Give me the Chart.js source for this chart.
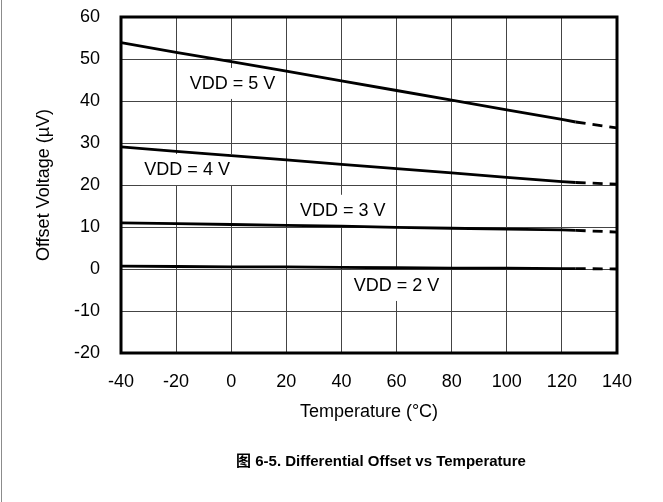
<!DOCTYPE html>
<html lang="en">
<head>
    <meta charset="UTF-8">
    <title>Differential Offset vs Temperature</title>
    <script src="https://cdn.jsdelivr.net/npm/chart.js"></script>
    <style>
        body { margin: 0; background: #fff; }
        #wrap { position: relative; width: 663px; height: 502px; }
        #edge { position: absolute; left: 1px; top: 0; width: 1px; height: 502px; background: #8c8c8c; }
    </style>
</head>
<body>
    <div id="wrap">
        <canvas id="offsetChart"></canvas>
        <div id="edge"></div>
    </div>

    <script>
        // measured temperatures (°C) and offset readings (µV)
        const temps = [-40, -20, 0, 20, 40, 60, 80, 100, 120, 125];
        const vdd5 = [53.9, 51.6, 49.4, 47.1, 44.8, 42.5, 40.2, 37.9, 35.6, 35.0];
        const vdd4 = [29.1, 28.0, 27.0, 26.0, 24.9, 23.9, 22.9, 21.8, 20.8, 20.6];
        const vdd3 = [11.0, 10.8, 10.6, 10.4, 10.2, 9.9, 9.7, 9.5, 9.3, 9.2];
        const vdd2 = [0.7, 0.6, 0.5, 0.5, 0.4, 0.3, 0.2, 0.2, 0.1, 0.1];

        // extrapolated (dashed) part
        const extTemps = [125, 140];
        const ext5 = [35.0, 33.6];
        const ext4 = [20.6, 20.2];
        const ext3 = [9.2, 8.8];
        const ext2 = [0.1, 0.0];

        const xTicks = [-40, -20, 0, 20, 40, 60, 80, 100, 120, 140];
        const yTicks = [-20, -10, 0, 10, 20, 30, 40, 50, 60];

        const labelText = ['VDD = 5 V', 'VDD = 4 V', 'VDD = 3 V', 'VDD = 2 V'];
        const labelX = [0.5, -16, 40.5, 60];
        const labelY = [44.3, 23.8, 14.1, -3.8];

        const FONT = '"Liberation Sans", Arial, "Noto Sans CJK SC", sans-serif';

        function pts(xs, ys) {
            return xs.map((x, i) => ({ x: x, y: ys[i] }));
        }

        function solid(ys) {
            return { data: pts(temps, ys), borderColor: '#000', borderWidth: 2.8, pointRadius: 0, fill: false, tension: 0 };
        }
        function dashed(ys) {
            return { data: pts(extTemps, ys), borderColor: '#000', borderWidth: 2.8, borderDash: [10, 7], pointRadius: 0, fill: false, tension: 0 };
        }

        // white boxed labels under the curves, plus the heavy frame
        const decor = {
            id: 'decor',
            beforeDatasetsDraw(chart) {
                const ctx = chart.ctx;
                const xs = chart.scales.x, ys = chart.scales.y;
                ctx.save();
                ctx.font = '18px ' + FONT;
                ctx.textAlign = 'center';
                ctx.textBaseline = 'middle';
                labelText.forEach((t, i) => {
                    const px = xs.getPixelForValue(labelX[i]);
                    const py = ys.getPixelForValue(labelY[i]);
                    const w = ctx.measureText(t).width + 6;
                    ctx.fillStyle = '#fff';
                    ctx.fillRect(px - w / 2, py - 15, w, 31);
                    ctx.fillStyle = '#000';
                    ctx.fillText(t, px, py + 1);
                });
                ctx.restore();
            },
            afterDatasetsDraw(chart) {
                const a = chart.chartArea;
                const ctx = chart.ctx;
                ctx.save();
                ctx.strokeStyle = '#000';
                ctx.lineWidth = 3;
                ctx.strokeRect(a.left, a.top, a.right - a.left, a.bottom - a.top);
                ctx.restore();
            },
            afterDraw(chart) {
                const ctx = chart.ctx;
                ctx.save();
                ctx.font = 'bold 15px ' + FONT;
                ctx.fillStyle = '#000';
                ctx.textAlign = 'center';
                ctx.textBaseline = 'middle';
                ctx.fillText('图 6-5. Differential Offset vs Temperature', 381, 462);
                ctx.restore();
            }
        };

        new Chart(document.getElementById('offsetChart'), {
            type: 'line',
            data: {
                datasets: [
                    solid(vdd5), dashed(ext5),
                    solid(vdd4), dashed(ext4),
                    solid(vdd3), dashed(ext3),
                    solid(vdd2), dashed(ext2)
                ]
            },
            options: {
                responsive: true,
                maintainAspectRatio: false,
                animation: false,
                layout: { padding: { top: 17, right: 46, bottom: 0, left: 0 } },
                plugins: {
                    legend: { display: false },
                    tooltip: { enabled: false }
                },
                scales: {
                    x: {
                        type: 'linear',
                        min: -40,
                        max: 140,
                        afterBuildTicks: s => { s.ticks = xTicks.map(v => ({ value: v })); },
                        afterFit: s => { s.height = 149; s.paddingLeft = 0; s.paddingRight = 0; },
                        grid: { color: '#444', lineWidth: 1, drawTicks: false },
                        border: { display: false },
                        ticks: { color: '#000', font: { family: FONT, size: 18 }, padding: 18, maxRotation: 0 },
                        title: {
                            display: true,
                            text: 'Temperature (°C)',
                            color: '#000',
                            font: { family: FONT, size: 18 },
                            padding: { top: 0, bottom: 79 }
                        }
                    },
                    y: {
                        min: -20,
                        max: 60,
                        afterBuildTicks: s => { s.ticks = yTicks.map(v => ({ value: v })); },
                        afterFit: s => { s.width = 121; s.paddingTop = 0; s.paddingBottom = 0; },
                        grid: { color: '#444', lineWidth: 1, drawTicks: false },
                        border: { display: false },
                        ticks: { color: '#000', font: { family: FONT, size: 18 }, padding: 21 },
                        title: {
                            display: true,
                            text: 'Offset Voltage (µV)',
                            color: '#000',
                            font: { family: FONT, size: 18 },
                            padding: { top: 33, bottom: 0 }
                        }
                    }
                }
            },
            plugins: [decor]
        });
    </script>
</body>
</html>
